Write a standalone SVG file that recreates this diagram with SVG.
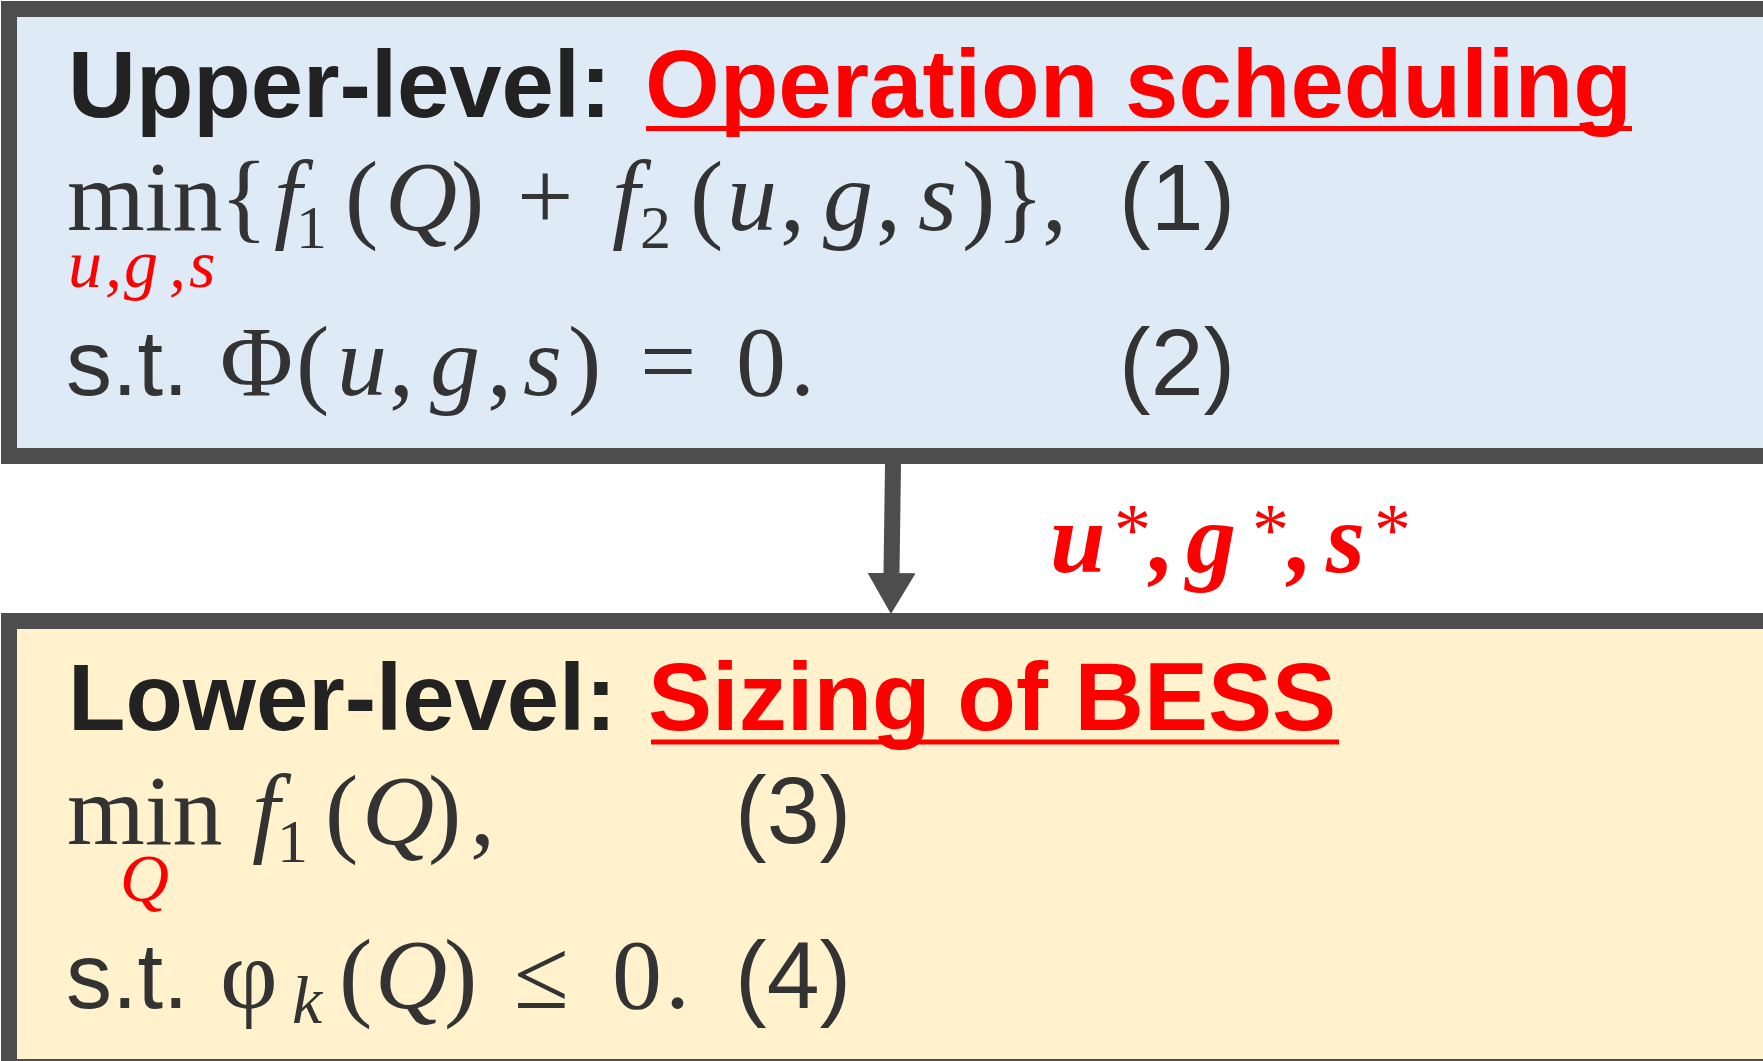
<svg xmlns="http://www.w3.org/2000/svg" width="1763" height="1061" viewBox="0 0 1763 1061">
  <style>
    .box { stroke: #4D4D4D; stroke-width: 16; }
    .upper { fill: #DEEAF6; }
    .lower { fill: #FFF2CC; }
    .title { font-family: "Liberation Sans", Arial, sans-serif; font-weight: bold; fill: #222222; }
    .red { fill: #FF0000; }
    .uline { stroke: #FF0000; stroke-width: 5; }
    .math { font-family: "Liberation Serif", "Times New Roman", serif; font-size: 100px; fill: #333333; }
    .it { font-style: italic; }
    .sub { font-size: 62px; }
    .subk { font-size: 68px; font-style: italic; }
    .subr { font-family: "Liberation Serif", "Times New Roman", serif; font-style: italic; font-size: 68px; fill: #FF0000; }
    .sans { font-family: "Liberation Sans", Arial, sans-serif; fill: #333333; }
    .num { font-family: "Liberation Sans", Arial, sans-serif; font-size: 95px; fill: #333333; }
    .lbl { font-family: "Liberation Serif", "Times New Roman", serif; font-weight: bold; font-style: italic; font-size: 100px; fill: #FF0000; }
    .star { font-family: "Liberation Serif", "Times New Roman", serif; font-weight: normal; font-style: normal; font-size: 74px; fill: #FF0000; }
    .conn { stroke: #4D4D4D; stroke-width: 16; fill: none; }
  </style>
  <defs>
    <marker id="head" markerUnits="userSpaceOnUse" viewBox="0 0 41 48" markerWidth="41" markerHeight="48" refX="0" refY="24" orient="auto">
      <path d="M0,0 L41,24 L0,48 Z" fill="#4D4D4D"/>
    </marker>
  </defs>

  <g id="upper-level">
    <rect class="box upper" x="9" y="9" width="1800" height="447"/>
    <text class="title" y="117"><tspan x="68" font-size="94">Upper-level:</tspan><tspan class="red" x="645" font-size="96">Operation scheduling</tspan></text>
    <line class="uline" x1="646" y1="128.5" x2="1632" y2="128.5"/>
    <text class="math" y="230">
      <tspan x="67">min</tspan><tspan x="220">{</tspan><tspan class="it" x="274">f</tspan><tspan class="sub" x="296" y="248">1</tspan><tspan x="345" y="230">(</tspan><tspan class="it" x="385">Q</tspan><tspan x="451">)</tspan><tspan x="517">+</tspan><tspan class="it" x="612">f</tspan><tspan class="sub" x="640" y="248">2</tspan><tspan x="690" y="230">(</tspan><tspan class="it" x="727">u</tspan><tspan x="780">,</tspan><tspan class="it" x="823">g</tspan><tspan x="876">,</tspan><tspan class="it" x="918">s</tspan><tspan x="962">)</tspan><tspan x="996">}</tspan><tspan x="1042">,</tspan>
    </text>
    <text class="subr" y="287"><tspan x="68">u</tspan><tspan x="105">,</tspan><tspan x="124">g</tspan><tspan x="169">,</tspan><tspan x="189">s</tspan></text>
    <text class="num" x="1119" y="230">(1)</text>
    <text class="sans" x="66" y="395" font-size="92">s.t.</text>
    <text class="math" y="395">
      <tspan x="220">Φ</tspan><tspan x="296">(</tspan><tspan class="it" x="337">u</tspan><tspan x="389">,</tspan><tspan class="it" x="430">g</tspan><tspan x="487">,</tspan><tspan class="it" x="523">s</tspan><tspan x="568">)</tspan><tspan x="640">=</tspan><tspan x="736">0</tspan><tspan x="790">.</tspan>
    </text>
    <text class="num" x="1119" y="395">(2)</text>
  </g>

  <g id="lower-level">
    <rect class="box lower" x="9" y="621" width="1800" height="446"/>
    <text class="title" y="730"><tspan x="68" font-size="94">Lower-level:</tspan><tspan class="red" x="648" font-size="96">Sizing of BESS</tspan></text>
    <line class="uline" x1="651" y1="742" x2="1339" y2="742"/>
    <text class="math" y="844">
      <tspan x="67">min</tspan><tspan class="it" x="252">f</tspan><tspan class="sub" x="277" y="862">1</tspan><tspan x="325" y="844">(</tspan><tspan class="it" x="362">Q</tspan><tspan x="428">)</tspan><tspan x="470">,</tspan>
    </text>
    <text class="subr" x="120" y="901">Q</text>
    <text class="num" x="735" y="843">(3)</text>
    <text class="sans" x="66" y="1008" font-size="92">s.t.</text>
    <text class="math" y="1008">
      <tspan x="220">φ</tspan><tspan class="subk" x="292" y="1023">k</tspan><tspan x="339" y="1008">(</tspan><tspan class="it" x="375">Q</tspan><tspan x="444">)</tspan><tspan x="514">≤</tspan><tspan x="612">0</tspan><tspan x="665">.</tspan>
    </text>
    <text class="num" x="735" y="1008">(4)</text>
  </g>

  <g id="connectors">
    <line class="conn" x1="893" y1="464" x2="891.5" y2="573" marker-end="url(#head)"/>
    <text class="lbl" y="572"><tspan x="1050">u</tspan><tspan class="star" x="1114" y="555">*</tspan><tspan x="1150" y="572">,</tspan><tspan x="1186">g</tspan><tspan class="star" x="1252" y="555">*</tspan><tspan x="1288" y="572">,</tspan><tspan x="1326">s</tspan><tspan class="star" x="1374" y="555">*</tspan></text>
  </g>
</svg>
